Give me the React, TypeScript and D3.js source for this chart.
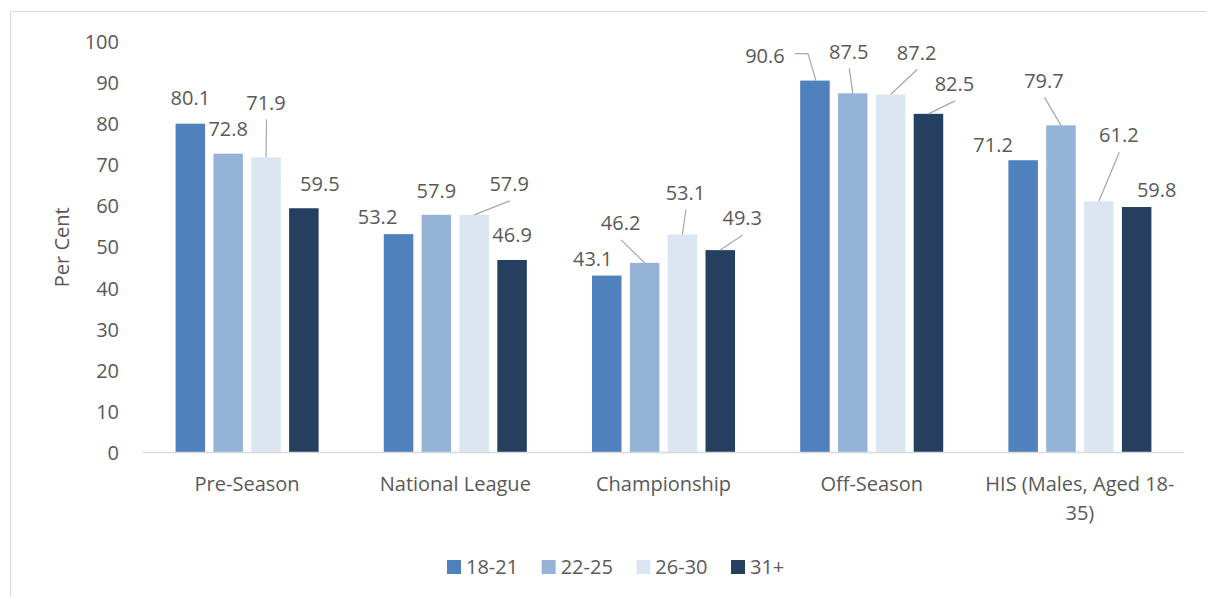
import { useEffect, useRef } from 'react';
import * as d3 from 'd3';

const categories = ['Pre-Season', 'National League', 'Championship', 'Off-Season', 'HIS (Males, Aged 18-35)'];
const seriesNames = ['18-21', '22-25', '26-30', '31+'];
const age18to21 = [80.1, 53.2, 43.1, 90.6, 71.2];
const age22to25 = [72.8, 57.9, 46.2, 87.5, 79.7];
const age26to30 = [71.9, 57.9, 53.1, 87.2, 61.2];
const age31plus = [59.5, 46.9, 49.3, 82.5, 59.8];
const yTicks = [0, 10, 20, 30, 40, 50, 60, 70, 80, 90, 100];

const colors = ['#4f81bd', '#95b3d7', '#dce6f2', '#243f60'];

// manual data label placement (px offset from bar top centre), like the Excel original
// leader: 0 = none, 1 = straight, 2 = elbow
const labelOffsets: [number, number, number][][] = [
  [[0, -26, 0], [-21, -17, 0], [-14, -17, 0], [-50, -25, 2], [-30, -15, 0]],
  [[0, -25, 0], [0, -24, 0], [-24, -40, 1], [-4, -42, 1], [-17, -45, 1]],
  [[0, -55, 1], [35, -31, 1], [3, -42, 1], [26, -42, 1], [20, -66, 1]],
  [[16, -24, 0], [0, -25, 0], [22, -32, 1], [26, -30, 1], [20, -17, 0]],
];

const W = 1206;
const H = 597;
const FONT = '"Open Sans", "DejaVu Sans", sans-serif';
const TEXT = '#595959';

export default function App() {
  const svgRef = useRef<SVGSVGElement>(null);

  useEffect(() => {
    if (!svgRef.current) return;
    const svg = d3.select(svgRef.current);
    svg.selectAll('*').remove();

    const series = [age18to21, age22to25, age26to30, age31plus];

    const x0 = d3.scaleBand<string>()
      .domain(categories)
      .range([143, 1184])
      .paddingInner(0.313)
      .paddingOuter(0.1565);

    const x1 = d3.scaleBand<string>()
      .domain(seriesNames)
      .range([0, x0.bandwidth()])
      .paddingInner(0.22);

    const y = d3.scaleLinear().domain([0, 100]).range([452.5, 42]);

    // chart frame
    svg.append('rect')
      .attr('x', 10.5).attr('y', 11.5)
      .attr('width', 1220).attr('height', 620)
      .attr('fill', 'white')
      .attr('stroke', '#d9d9d9');

    // y axis labels
    const yAxis = svg.append('g').attr('font-family', FONT).attr('font-size', 20).attr('fill', TEXT);
    yAxis.selectAll('text')
      .data(yTicks)
      .join('text')
      .attr('x', 119)
      .attr('y', d => y(d))
      .attr('dy', '0.36em')
      .attr('text-anchor', 'end')
      .text(d => d);

    svg.append('text')
      .attr('transform', `translate(69,${y(50)}) rotate(-90)`)
      .attr('text-anchor', 'middle')
      .attr('font-family', FONT)
      .attr('font-size', 20)
      .attr('fill', TEXT)
      .text('Per Cent');

    // bars
    const groups = svg.append('g')
      .selectAll('g')
      .data(categories)
      .join('g')
      .attr('transform', d => `translate(${x0(d)},0)`);

    groups.selectAll('rect')
      .data((_, ci) => seriesNames.map((s, si) => ({ s, si, v: series[si][ci] })))
      .join('rect')
      .attr('x', d => x1(d.s)!)
      .attr('y', d => y(d.v))
      .attr('width', x1.bandwidth())
      .attr('height', d => y(0) - y(d.v))
      .attr('fill', d => colors[d.si]);

    // baseline
    svg.append('line')
      .attr('x1', 143).attr('x2', 1184)
      .attr('y1', y(0)).attr('y2', y(0))
      .attr('stroke', '#d9d9d9')
      .attr('stroke-width', 1.3);

    // data labels + leader lines
    const labels = svg.append('g').attr('font-family', FONT).attr('font-size', 20).attr('fill', TEXT);
    const leaders = svg.append('g').attr('stroke', '#a6a6a6').attr('stroke-width', 1.2).attr('fill', 'none');
    categories.forEach((c, ci) => {
      seriesNames.forEach((s, si) => {
        const v = series[si][ci];
        const bx = x0(c)! + x1(s)! + x1.bandwidth() / 2;
        const by = y(v);
        const [dx, dy, leader] = labelOffsets[si][ci];
        const lx = bx + dx;
        const ly = by + dy;
        labels.append('text')
          .attr('x', lx)
          .attr('y', ly)
          .attr('dy', '0.36em')
          .attr('text-anchor', 'middle')
          .text(v.toFixed(1));
        if (leader === 1) {
          leaders.append('path')
            .attr('d', d3.line()([[bx, by], [lx + 0.5, ly + 17]]));
        } else if (leader === 2) {
          leaders.append('path')
            .attr('d', d3.line()([[bx + 1, by], [bx - 7, ly - 2], [lx + 30, ly - 2]]));
        }
      });
    });

    // category labels with wrapping
    const catG = svg.append('g').attr('font-family', FONT).attr('font-size', 20).attr('fill', TEXT);
    categories.forEach(c => {
      const cx = x0(c)! + x0.bandwidth() / 2;
      const t = catG.append('text')
        .attr('x', cx)
        .attr('y', 491)
        .attr('text-anchor', 'middle');
      const words = c.split(/(?<=[\s-])/);
      let line: string[] = [];
      let lineNo = 0;
      let tspan = t.append('tspan').attr('x', cx).attr('y', 491);
      words.forEach(w => {
        line.push(w);
        tspan.text(line.join('').trimEnd());
        if ((tspan.node() as SVGTSpanElement).getComputedTextLength() > x0.step() + 6 && line.length > 1) {
          line.pop();
          tspan.text(line.join('').trimEnd());
          line = [w];
          lineNo++;
          tspan = t.append('tspan')
            .attr('x', cx)
            .attr('y', 491 + lineNo * 29)
            .text(w);
        }
      });
    });

    // legend
    const legend = svg.append('g').attr('font-family', FONT).attr('font-size', 20).attr('fill', TEXT);
    const legendX = d3.scalePoint<string>().domain(seriesNames).range([447, 731]);
    seriesNames.forEach((s, si) => {
      const lx = legendX(s)!;
      legend.append('rect')
        .attr('x', lx).attr('y', 560)
        .attr('width', 14).attr('height', 14)
        .attr('fill', colors[si]);
      legend.append('text')
        .attr('x', lx + 19)
        .attr('y', 567)
        .attr('dy', '0.36em')
        .text(s);
    });
  }, []);

  return (
    <svg
      ref={svgRef}
      width={W}
      height={H}
      style={{ position: 'absolute', left: 0, top: 0, display: 'block', background: 'white' }}
    />
  );
}
